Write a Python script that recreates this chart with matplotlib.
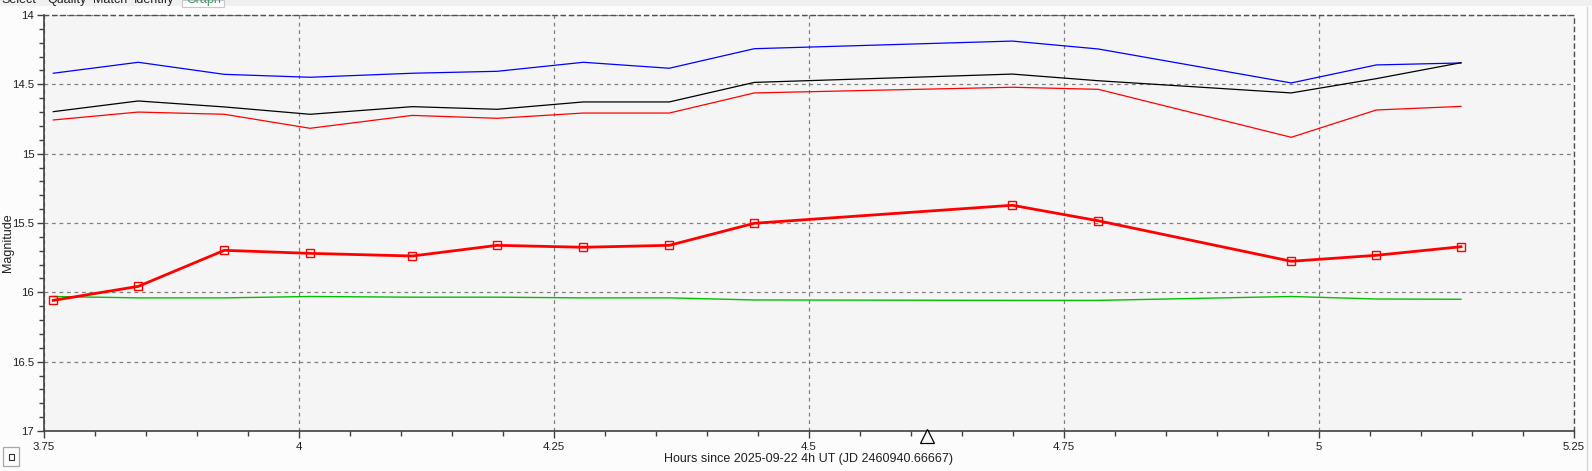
import matplotlib
matplotlib.use("Agg")
import matplotlib.pyplot as plt
from matplotlib.ticker import MultipleLocator, FuncFormatter
from matplotlib.patches import Rectangle
import matplotlib.transforms as mtransforms

plt.rcParams['font.family'] = ['Liberation Sans', 'DejaVu Sans']

# ---- data ----
hours = [3.7591, 3.8424, 3.9268, 4.0108, 4.1111, 4.1944, 4.2787, 4.3630,
         4.4464, 4.6993, 4.7836, 4.9728, 5.0562, 5.1392]
variable_mag = [16.058, 15.957, 15.697, 15.719, 15.738, 15.661, 15.675, 15.661,
                15.502, 15.372, 15.484, 15.776, 15.733, 15.671]
comp_blue = [14.420, 14.341, 14.428, 14.449, 14.420, 14.406, 14.341, 14.384,
             14.243, 14.188, 14.245, 14.490, 14.360, 14.346]
comp_black = [14.697, 14.620, 14.663, 14.716, 14.661, 14.680, 14.627, 14.627,
              14.486, 14.426, 14.474, 14.562, 14.459, 14.344]
comp_red = [14.757, 14.700, 14.716, 14.817, 14.724, 14.745, 14.707, 14.707,
            14.562, 14.521, 14.536, 14.882, 14.685, 14.659]
check_green = [16.030, 16.040, 16.040, 16.030, 16.035, 16.035, 16.040, 16.040,
               16.055, 16.058, 16.058, 16.030, 16.048, 16.050]
tab_labels = ["Select", "Quality", "Match", "Identify", "Graph"]
tab_x_px = [1, 47, 93, 134, 186]
xlabel_text = "Hours since 2025-09-22 4h UT (JD 2460940.66667)"
ylabel_text = "Magnitude"
marker_hour = 4.616

W, H = 1592, 471
fig = plt.figure(figsize=(W / 100, H / 100), dpi=100, facecolor="#fcfcfc")

# top tab strip
fig.patches.append(Rectangle((0, 1 - 6 / H), 1, 6 / H, transform=fig.transFigure,
                             facecolor="#f0f0f0", edgecolor="none", zorder=0))
fig.patches.append(Rectangle((182 / W, 1 - 7 / H), 42 / W, 7 / H, transform=fig.transFigure,
                             facecolor="#ffffff", edgecolor="#c8c8c8", lw=0.8, zorder=1))
for lab, px in zip(tab_labels, tab_x_px):
    fig.text(px / W, 1 - 3 / H, lab, fontsize=9, va="baseline", ha="left",
             color="#3c9a6a" if lab == "Graph" else "#202020", zorder=2)
# right side border line
fig.add_artist(plt.Line2D([1587 / W, 1587 / W], [0, 1 - 7 / H], transform=fig.transFigure,
                          color="#d4d4e4", lw=1))

ax = fig.add_axes([44 / W, 1 - 431 / H, 1530 / W, 416 / H])
ax.set_facecolor("#f5f5f5")

ax.plot(hours, comp_blue, color="#0000ff", lw=0.9, zorder=3)
ax.plot(hours, comp_black, color="#000000", lw=0.9, zorder=3)
ax.plot(hours, comp_red, color="#ff0000", lw=0.9, zorder=3)
ax.plot(hours, check_green, color="#00c000", lw=1.0, zorder=3)
ax.plot(hours, variable_mag, color="#ff0000", lw=2.0, marker="s", markersize=6,
        markerfacecolor="none", markeredgecolor="#ff0000", markeredgewidth=1.0, zorder=4)

ax.set_xlim(3.75, 5.25)
ax.set_ylim(17, 14)

ax.xaxis.set_major_locator(MultipleLocator(0.25))
ax.xaxis.set_minor_locator(MultipleLocator(0.05))
ax.yaxis.set_major_locator(MultipleLocator(0.5))
ax.yaxis.set_minor_locator(MultipleLocator(0.1))
fmt = FuncFormatter(lambda v, p: ("%g" % round(v, 4)))
ax.xaxis.set_major_formatter(fmt)
ax.yaxis.set_major_formatter(fmt)

ax.grid(True, which="major", color="#808080", linestyle=(0, (3, 3)), lw=0.9)
ax.tick_params(axis="both", which="major", length=5, width=1, color="#404040",
               labelsize=8.2, labelcolor="#202020", direction="out")
ax.tick_params(axis="both", which="minor", length=3.5, width=1, color="#404040", direction="out")
ax.tick_params(axis="x", which="major", pad=3)
ax.tick_params(axis="y", which="major", pad=2)

for s in ["left", "bottom"]:
    ax.spines[s].set_color("#404040")
    ax.spines[s].set_linewidth(1.2)
for s in ["top", "right"]:
    ax.spines[s].set_color("#505050")
    ax.spines[s].set_linestyle((0, (3, 3)))
    ax.spines[s].set_linewidth(1.0)

ax.set_xlabel(xlabel_text, fontsize=9, color="#202020")
ax.xaxis.set_label_coords(0.5, -0.068)
ax.xaxis.label.set_va("center")
ax.set_ylabel(ylabel_text, fontsize=9, color="#202020")
ax.yaxis.set_label_coords(-0.0235, 0.452)
ax.yaxis.label.set_va("center")

# small triangle marker under the axis
trans = mtransforms.blended_transform_factory(ax.transData, ax.transAxes)
ax.plot([marker_hour], [-0.0125], marker="^", markersize=10, markerfacecolor="#f8f8f8",
        markeredgecolor="#000000", markeredgewidth=0.9, transform=trans, clip_on=False, zorder=5)

# small box bottom-left
fig.patches.append(Rectangle((3 / W, 1 - 466 / H), 16 / W, 19 / H, transform=fig.transFigure,
                             facecolor="#fcfcfc", edgecolor="#a8a8a8", lw=0.9))
fig.patches.append(Rectangle((8.5 / W, 1 - 459.5 / H), 5 / W, 6 / H, transform=fig.transFigure,
                             facecolor="none", edgecolor="#303030", lw=0.8))

fig.savefig("out.png", dpi=100, facecolor=fig.get_facecolor())
